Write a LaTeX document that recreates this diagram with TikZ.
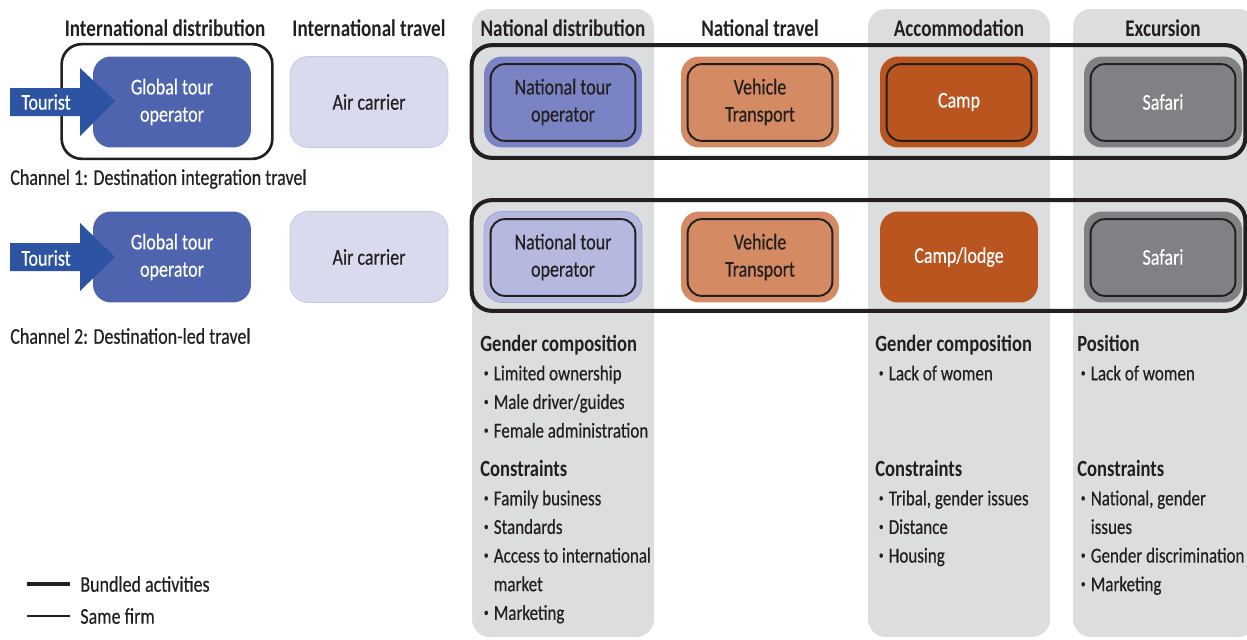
\documentclass[tikz,border=0pt]{standalone}
\usepackage{fontspec}
\setmainfont{Carlito}[FakeStretch=0.8, UprightFeatures={FakeBold=0.4}]
\usetikzlibrary{positioning}
\definecolor{inkgray}{HTML}{231F20}
\definecolor{colgray}{HTML}{DCDDDE}
\definecolor{globalblue}{HTML}{4E64AF}
\definecolor{touristblue}{HTML}{2D53A3}
\definecolor{airlilac}{HTML}{DADAEE}
\definecolor{airedge}{HTML}{C6C8E4}
\definecolor{ntoblue}{HTML}{7A84C4}
\definecolor{ntolight}{HTML}{B5B9DF}
\definecolor{ntoedge}{HTML}{9FA5D6}
\definecolor{vehtan}{HTML}{D48A62}
\definecolor{camprust}{HTML}{BA5520}
\definecolor{safgray}{HTML}{808185}
\tikzset{
  column/.style={fill=colgray, rounded corners=0.36cm},
  header/.style={font=\fontsize{13.6}{15}\selectfont\bfseries, text=inkgray},
  stage/.style={minimum width=3.16cm, minimum height=1.82cm, rounded corners=0.36cm,
    align=center, inner sep=0pt, font=\fontsize{12.8}{15.5}\selectfont, text=inkgray},
  inframe/.style={draw=inkgray, line width=1.1pt, rounded corners=0.28cm},
  bundled/.style={draw=inkgray, line width=2.3pt, rounded corners=0.4cm},
  samefirm/.style={draw=inkgray, line width=1.5pt, rounded corners=0.4cm},
  channel/.style={anchor=west, inner sep=0pt, font=\fontsize{12.8}{15}\selectfont, text=inkgray},
  notes/.style={anchor=north west, align=left, inner sep=0pt,
    font=\fontsize{12.1}{16.3}\selectfont, text=inkgray}
}
\newcommand{\hb}{\hspace*{2pt}\raisebox{0.17em}{\scalebox{0.55}{\textbullet}}\hspace{3pt}}
\newcommand{\hind}{\hphantom{\hb}}
\newcommand{\nh}[1]{{\fontsize{13.2}{16.3}\selectfont\bfseries #1}}

\begin{document}
\begin{tikzpicture}[x=0.02cm, y=-0.02cm]
  \useasboundingbox (0,0) rectangle (1247,639);
  % Columns
  \fill[column] (472,9) rectangle (654,637);
  \fill[column] (868,9) rectangle (1050,637);
  \fill[column] (1073,9) rectangle (1256,637);
  % Headers
  \node[header] (h1) at (165,28) {International distribution};
  \node[header] (h2) at (369,28) {International travel};
  \node[header] (h3) at (563,28) {National distribution};
  \node[header] (h4) at (760,28) {National travel};
  \node[header] (h5) at (959,28) {Accommodation};
  \node[header] (h6) at (1163,28) {Excursion};
  % Channel 1
  \node[stage, fill=globalblue, text=white] (glo1) at (172,102) {Global tour\\operator};
  \node[stage, fill=airlilac, draw=airedge] (air1) at (369,102) {Air carrier};
  \node[stage, fill=ntoblue] (nto1) at (563,102) {National tour\\operator};
  \node[stage, fill=vehtan] (veh1) at (760,102) {Vehicle\\Transport};
  \node[stage, fill=camprust, text=white] (camp1) at (959,102) {Camp};
  \node[stage, fill=safgray, text=white] (saf1) at (1163,102) {Safari};
  \draw[inframe] ([shift={(7,8)}]nto1.north west) rectangle ([shift={(-7,-7)}]nto1.south east);
  \draw[inframe] ([shift={(7,8)}]veh1.north west) rectangle ([shift={(-7,-7)}]veh1.south east);
  \draw[inframe] ([shift={(7,8)}]camp1.north west) rectangle ([shift={(-7,-7)}]camp1.south east);
  \draw[inframe] ([shift={(7,8)}]saf1.north west) rectangle ([shift={(-7,-7)}]saf1.south east);
  \draw[samefirm] ([shift={(-31,-12)}]glo1.north west) rectangle ([shift={(21,11)}]glo1.south east);
  \draw[bundled] ([shift={(-12,-11)}]nto1.north west) rectangle ([shift={(3,10)}]saf1.south east);
  \fill[touristblue] (10,88) -- (80,88) -- (80,68) -- (115,101) -- (80,136) -- (80,116) -- (10,116) -- cycle;
  \node[channel, text=white] (tou1) at (21,102) {Tourist};
  \node[channel] (ch1) at (10,179) {Channel 1: Destination integration travel};
  % Channel 2
  \node[stage, fill=globalblue, text=white] (glo2) at (172,257) {Global tour\\operator};
  \node[stage, fill=airlilac, draw=airedge] (air2) at (369,257) {Air carrier};
  \node[stage, fill=ntolight, draw=ntoedge] (nto2) at (563,257) {National tour\\operator};
  \node[stage, fill=vehtan] (veh2) at (760,257) {Vehicle\\Transport};
  \node[stage, fill=camprust, text=white] (camp2) at (959,257) {Camp/lodge};
  \node[stage, fill=safgray, text=white] (saf2) at (1163,257) {Safari};
  \draw[inframe] ([shift={(7,8)}]nto2.north west) rectangle ([shift={(-7,-7)}]nto2.south east);
  \draw[inframe] ([shift={(7,8)}]veh2.north west) rectangle ([shift={(-7,-7)}]veh2.south east);
  \draw[inframe] ([shift={(7,8)}]saf2.north west) rectangle ([shift={(-7,-7)}]saf2.south east);
  \draw[bundled] ([shift={(-12,-11)}]nto2.north west) rectangle ([shift={(3,8)}]saf2.south east);
  \fill[touristblue] (10,243) -- (80,243) -- (80,223) -- (115,257) -- (80,291) -- (80,271) -- (10,271) -- cycle;
  \node[channel, text=white] (tou2) at (21,258) {Tourist};
  \node[channel] (ch2) at (10,336) {Channel 2: Destination-led travel};
  % Notes
  \node[notes] (gc3) at (480,335) {\nh{Gender composition}\\
    \hb Limited ownership\\ \hb Male driver/guides\\ \hb Female administration};
  \node[notes] (co3) at (480,460) {\nh{Constraints}\\
    \hb Family business\\ \hb Standards\\ \hb Access to international\\ \hind market\\ \hb Marketing};
  \node[notes] (gc5) at (875,335) {\nh{Gender composition}\\ \hb Lack of women};
  \node[notes] (co5) at (875,460) {\nh{Constraints}\\
    \hb Tribal, gender issues\\ \hb Distance\\ \hb Housing};
  \node[notes] (gc6) at (1077,335) {\nh{Position}\\ \hb Lack of women};
  \node[notes] (co6) at (1077,460) {\nh{Constraints}\\
    \hb National, gender\\ \hind issues\\ \hb Gender discrimination\\ \hb Marketing};
  % Legend
  \coordinate (lg1) at (27,584);
  \coordinate (lg2) at (27,616);
  \node[channel] (lt1) at (80,584) {Bundled activities};
  \node[channel] (lt2) at (80,616) {Same firm};
  \draw[inkgray, line width=2.3pt] (lg1) -- ++(43,0);
  \draw[inkgray, line width=1.2pt] (lg2) -- ++(43,0);
\end{tikzpicture}
\end{document}
